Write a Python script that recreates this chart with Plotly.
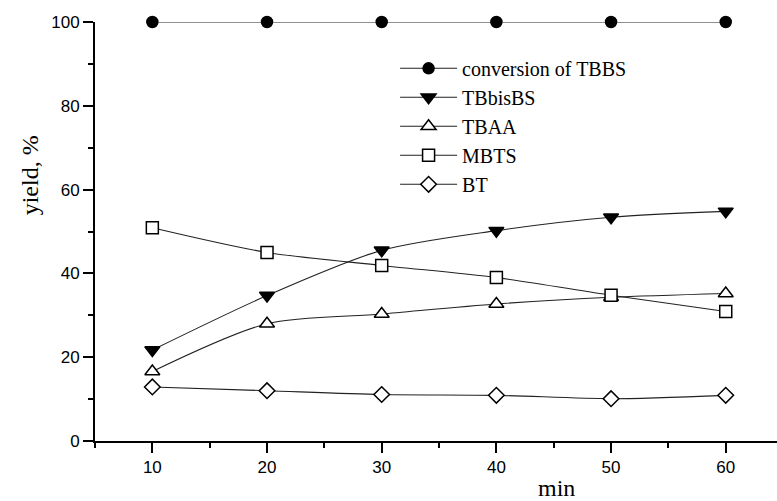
import plotly.graph_objects as go

minutes = [10, 20, 30, 40, 50, 60]
conversion_tbbs = [100, 100, 100, 100, 100, 100]
tbbisbs = [21.7, 34.7, 45.5, 50.2, 53.4, 54.8]
tbaa = [16.6, 28.0, 30.3, 32.7, 34.3, 35.2]
mbts = [50.9, 45.0, 41.9, 39.0, 34.8, 30.9]
bt = [12.9, 12.0, 11.1, 10.9, 10.1, 10.9]

x_ticks = [10, 20, 30, 40, 50, 60]
x_minor = [5, 15, 25, 35, 45, 55]
y_ticks = [0, 20, 40, 60, 80, 100]
y_minor = [10, 30, 50, 70, 90]

series = [
    ("conversion of TBBS", conversion_tbbs, "circle", "black", 11),
    ("TBbisBS", tbbisbs, "triangle-down", "black", 13),
    ("TBAA", tbaa, "triangle-up", "white", 13),
    ("MBTS", mbts, "square", "white", 12),
    ("BT", bt, "diamond", "white", 12),
]

fig = go.Figure()
for name, vals, sym, col, sz in series:
    fig.add_trace(go.Scatter(
        x=minutes, y=vals, name=name, mode="lines+markers",
        line=dict(color="#222222", width=1.1, shape="spline", smoothing=0.8),
        marker=dict(symbol=sym, size=sz, color=col,
                    line=dict(color="black", width=1.5)),
        cliponaxis=False,
    ))

fig.update_layout(
    width=777, height=501,
    margin=dict(l=95, r=0, t=22, b=60),
    plot_bgcolor="white", paper_bgcolor="white",
    font=dict(family="Liberation Sans, Arial, sans-serif", size=17, color="black"),
    showlegend=True,
    legend=dict(
        x=0.44, y=0.936, xanchor="left", yanchor="top",
        font=dict(family="Liberation Serif, Times New Roman, serif", size=20, color="black"),
        bgcolor="rgba(0,0,0,0)", itemwidth=57, tracegroupgap=0,
    ),
    xaxis=dict(
        range=[5, 64.47], tickvals=x_ticks, ticks="outside", ticklen=10, tickwidth=2,
        tickcolor="black", showline=True, linecolor="black", linewidth=2,
        showgrid=False, zeroline=False,
        minor=dict(tickvals=x_minor, ticks="outside", ticklen=5, tickwidth=2, tickcolor="black"),
    ),
    yaxis=dict(
        range=[0, 100], tickvals=y_ticks, ticks="outside", ticklen=10, tickwidth=2,
        tickcolor="black", showline=True, linecolor="black", linewidth=2,
        showgrid=False, zeroline=False,
        minor=dict(tickvals=y_minor, ticks="outside", ticklen=5, tickwidth=2, tickcolor="black"),
    ),
    annotations=[
        dict(text="yield, %", xref="paper", yref="paper", x=-0.0953, y=0.634,
             xanchor="center", yanchor="middle", textangle=-90, showarrow=False,
             font=dict(family="Liberation Serif, Times New Roman, serif", size=24, color="black")),
        dict(text="min", xref="paper", yref="paper", x=0.676, y=-0.111,
             xanchor="center", yanchor="middle", showarrow=False,
             font=dict(family="Liberation Serif, Times New Roman, serif", size=24, color="black")),
    ],
)

fig.write_html("out.html")
